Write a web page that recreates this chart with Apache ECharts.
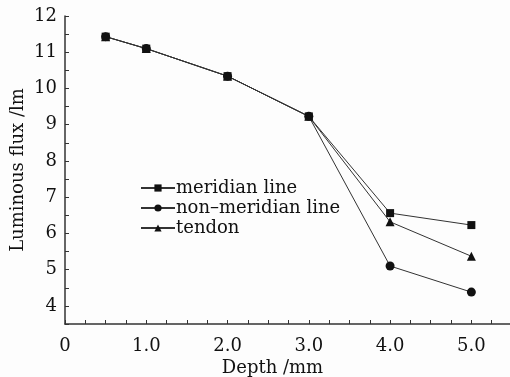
<!DOCTYPE html>
<html><head><meta charset="utf-8">
<script src="https://cdn.jsdelivr.net/npm/echarts@6/dist/echarts.min.js"></script>
<style>html,body{margin:0;padding:0;background:#fdfdfd}#c{width:510px;height:377px}</style>
</head><body><div id="c"></div>
<script>
const depth = [0.5, 1.0, 2.0, 3.0, 4.0, 5.0];
const meridian = [11.43, 11.10, 10.34, 9.23, 6.56, 6.23];
const nonMeridian = [11.43, 11.10, 10.34, 9.23, 5.10, 4.38];
const tendon = [11.43, 11.10, 10.34, 9.23, 6.32, 5.37];
const seriesNames = ['meridian line', 'non–meridian line', 'tendon'];
const symbols = ['rect', 'circle', 'triangle'];
const FONT = 'DejaVu Serif';
const chart = echarts.init(document.getElementById('c'));
const mk = (name, vals, sym) => ({
  name, type: 'line', data: depth.map((d, i) => [d, vals[i]]),
  symbol: sym, symbolSize: sym === 'rect' ? 8 : 9, showSymbol: true,
  lineStyle: { color: '#333', width: 1 }, itemStyle: { color: '#111' },
  animation: false
});
chart.setOption({
  backgroundColor: '#fdfdfd',
  grid: { left: 65, top: 16, width: 447, height: 308, containLabel: false, outerBoundsMode: 'none' },
  legend: {
    orient: 'vertical', left: 135, top: 174, itemWidth: 34, itemHeight: 9, itemGap: 2,
    textStyle: { fontFamily: FONT, fontSize: 18, color: '#111', padding: [0, 0, 0, -4] },
    data: seriesNames
  },
  xAxis: {
    type: 'value', min: 0, max: 5.5, interval: 0.25,
    name: 'Depth /mm', nameLocation: 'middle', nameGap: 35, nameMoveOverlap: false,
    nameTextStyle: { fontFamily: FONT, fontSize: 18, color: '#111', padding: [0, 32, 0, 0] },
    axisLine: { lineStyle: { color: '#333', width: 1.5 } },
    axisTick: { inside: true, length: 4, lineStyle: { color: '#333' } },
    splitLine: { show: false },
    axisLabel: { fontFamily: FONT, fontSize: 18, color: '#111', margin: 13, showMaxLabel: false,
      formatter: v => Math.abs(v - Math.round(v)) < 1e-9 ? (v === 0 ? '0' : v.toFixed(1)) : '' }
  },
  yAxis: {
    type: 'value', min: 3.5, max: 12, interval: 0.5,
    name: 'Luminous flux /lm', nameLocation: 'middle', nameGap: 38, nameMoveOverlap: false,
    nameTextStyle: { fontFamily: FONT, fontSize: 18, color: '#111' },
    axisLine: { show: true, lineStyle: { color: '#333', width: 1.5 } },
    axisTick: { show: true, inside: true, length: 4, lineStyle: { color: '#333' } },
    splitLine: { show: false },
    axisLabel: { fontFamily: FONT, fontSize: 18, color: '#111', margin: 8,
      formatter: v => Math.abs(v - Math.round(v)) < 1e-9 ? String(v) : '' }
  },
  series: [mk(seriesNames[0], meridian, symbols[0]), mk(seriesNames[1], nonMeridian, symbols[1]), mk(seriesNames[2], tendon, symbols[2])]
});
</script></body></html>
